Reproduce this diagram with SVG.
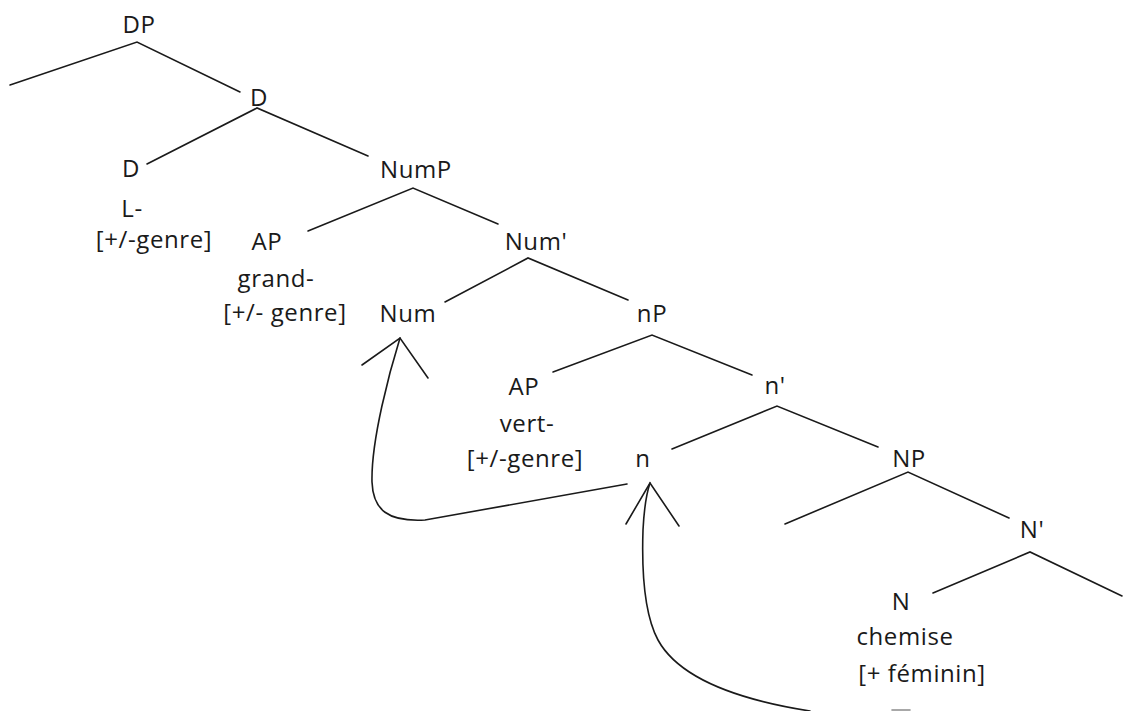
<svg xmlns="http://www.w3.org/2000/svg" width="1123" height="711" viewBox="0 0 1123 711">
<style>
text{font-family:"Open Sans","Liberation Sans",sans-serif;font-size:24px;letter-spacing:0.6px;fill:#1a1a1a;text-anchor:middle}
.e{stroke:#1a1a1a;stroke-width:1.6;fill:none;stroke-linecap:round}
</style>
<rect width="1123" height="711" fill="#fff"/>
<g id="connectors">
<path class="e" d="M10,85 L137,42 L240,92"/>
<path class="e" d="M147,164 L257,108 L368,156"/>
<path class="e" d="M308,231 L413,188 L498,224"/>
<path class="e" d="M445,302 L528,258 L628,300"/>
<path class="e" d="M553,372 L652,335 L752,375"/>
<path class="e" d="M672,449 L777,406 L878,447"/>
<path class="e" d="M785,524 L908,472 L1009,518"/>
<path class="e" d="M933,593 L1030,552 L1122,596"/>
<path class="e" d="M627,484 L425,520 C388,522 373,510 372,482 C371,440 390,370 400,338"/>
<path class="e" d="M362,365 L400,338 L428,378"/>
<path class="e" d="M810,711 C740,700 680,680 658,640 C642,610 642,560 643,530 C644,510 646,495 650,483"/>
<path class="e" d="M626,524 L650,483 L679,526"/>
<path class="e" d="M892,710 L910,710" stroke-opacity="0.5"/>
</g>
<g id="DP"><text x="139" y="33">DP</text></g>
<g id="Dbar"><text x="259" y="106">D</text></g>
<g id="D"><text x="131" y="177">D</text><text x="132" y="217">L-</text><text x="154" y="248">[+/-genre]</text></g>
<g id="NumP"><text x="416" y="178">NumP</text></g>
<g id="AP1"><text x="267" y="250">AP</text><text x="276" y="287">grand-</text><text x="285" y="321">[+/- genre]</text></g>
<g id="Numbar"><text x="536" y="250">Num'</text></g>
<g id="Num"><text x="408" y="322">Num</text></g>
<g id="nP"><text x="652" y="322">nP</text></g>
<g id="AP2"><text x="524" y="395">AP</text><text x="527" y="432">vert-</text><text x="525" y="467">[+/-genre]</text></g>
<g id="nbar"><text x="775" y="394">n'</text></g>
<g id="n"><text x="643" y="467">n</text></g>
<g id="NP"><text x="909" y="467">NP</text></g>
<g id="Nbar"><text x="1032" y="538">N'</text></g>
<g id="N"><text x="901" y="610">N</text><text x="905" y="645">chemise</text><text x="922" y="682">[+ féminin]</text></g>
</svg>
